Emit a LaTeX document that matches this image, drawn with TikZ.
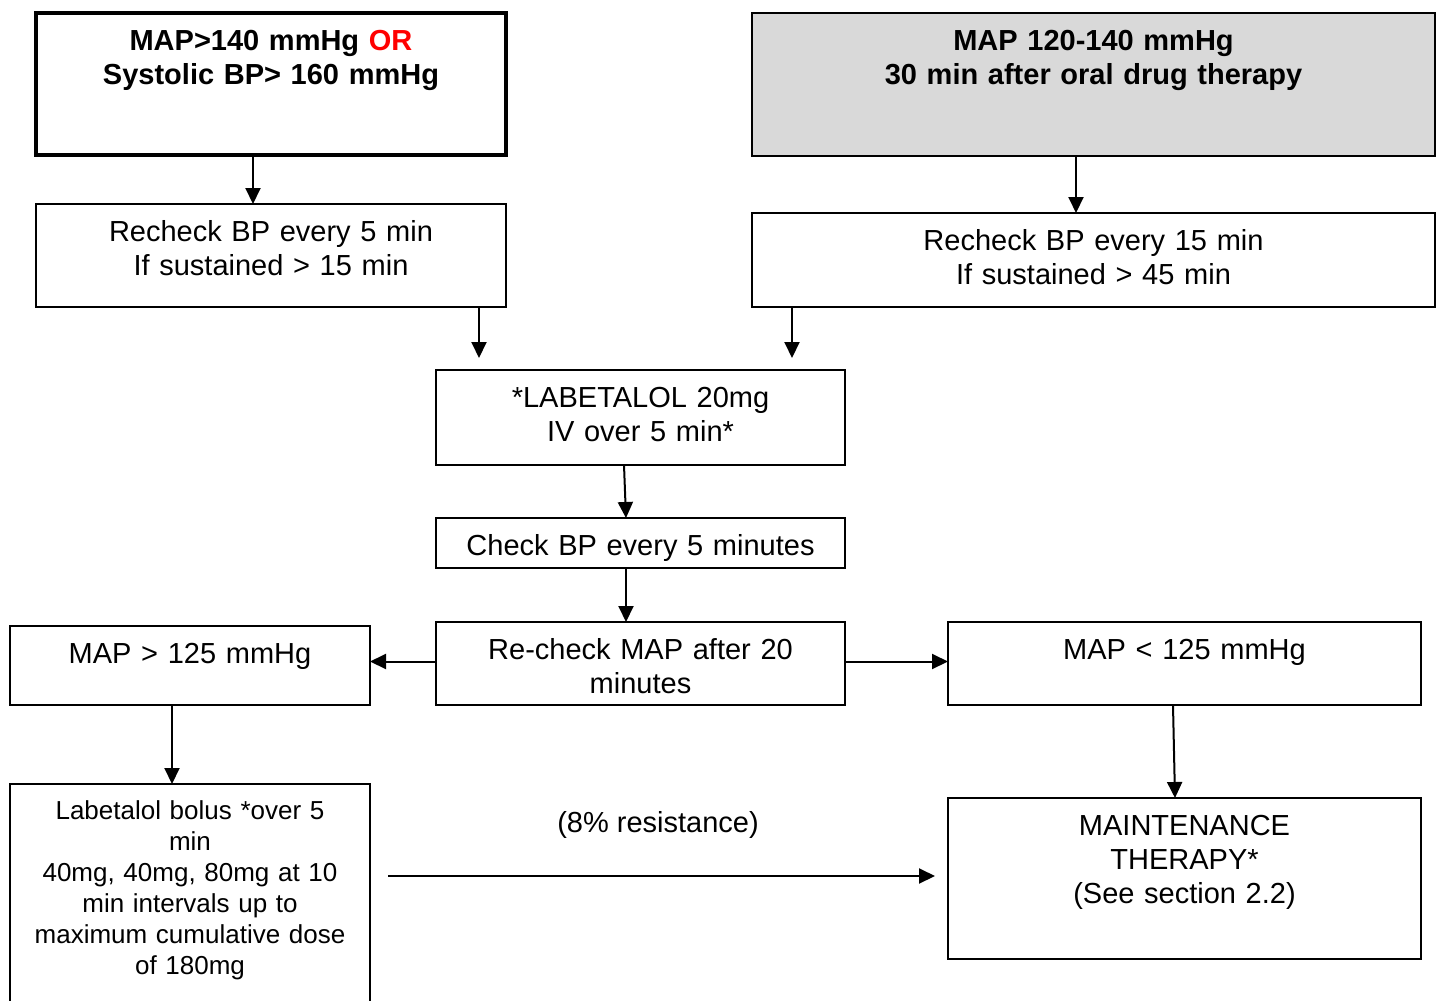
\documentclass[tikz,border=0pt]{standalone}
\usepackage{fontspec}
\setmainfont{Liberation Sans}
\usetikzlibrary{arrows.meta}

\begin{document}
\begin{tikzpicture}[x=1pt, y=-1pt, >={Triangle[length=16pt, width=15pt]},
    box/.style={draw, line width=1.5pt, anchor=north west, inner xsep=8pt, inner ysep=0pt,
      outer sep=0pt, align=center, text height=37.5pt, font=\fontsize{29}{34}\selectfont},
    arr/.style={->, line width=2pt}]
  \clip (0,0) rectangle (1441,1001);
  % first row
  \node[box, line width=4pt, text width=454pt, text depth=104.5pt,
    font=\fontsize{29}{34}\selectfont\bfseries] (crit) at (36,13)
    {MAP>140 mmHg \textcolor{red}{OR}\\Systolic BP> 160 mmHg};
  \node[box, fill=black!15, text width=667pt, text depth=105.5pt,
    font=\fontsize{29}{34}\selectfont\bfseries] (oral) at (752,13)
    {MAP 120-140 mmHg\\30 min after oral drug therapy};
  \node[box, text width=454pt, text depth=65.5pt] (rc5) at (36,204)
    {Recheck BP every 5 min\\If sustained > 15 min};
  \node[box, text width=667pt, text depth=56.5pt] (rc15) at (752,213)
    {Recheck BP every 15 min\\If sustained > 45 min};
  % middle column
  \node[box, text width=393pt, text depth=57.5pt] (lab) at (436,370)
    {*LABETALOL 20mg\\IV over 5 min*};
  \node[box, text width=393pt, text depth=12.5pt] (chk) at (436,518)
    {Check BP every 5 minutes};
  \node[box, text width=393pt, text depth=45.5pt] (remap) at (436,622)
    {Re-check MAP after 20\\minutes};
  % outcomes
  \node[box, text width=344pt, text depth=41.5pt] (high) at (10,626)
    {MAP > 125 mmHg};
  \node[box, text width=457pt, text depth=45.5pt] (low) at (948,622)
    {MAP < 125 mmHg};
  \node[box, text width=344pt, text height=35pt, text depth=225pt,
    font=\fontsize{26}{31}\selectfont] (bolus) at (10,784)
    {Labetalol bolus *over 5\\min\\40mg, 40mg, 80mg at 10\\min intervals up to\\maximum cumulative dose\\of 180mg};
  \node[box, text width=457pt, text depth=123.5pt] (maint) at (948,798)
    {MAINTENANCE\\THERAPY*\\(See section 2.2)};
  \node[font=\fontsize{29}{34}\selectfont] (resist) at (658,825) {(8\% resistance)};
  \coordinate (resfrom) at (388,876);
  \coordinate (resto) at (935,876);

  % arrows
  \draw[arr] ([xshift=-18pt]crit.south) -- ([xshift=-18pt]rc5.north);
  \draw[arr] ([xshift=-17.5pt]oral.south) -- ([xshift=-17.5pt]rc15.north);
  \draw[arr] ([xshift=208pt]rc5.south) -- ([xshift=-161.5pt, yshift=12pt]lab.north);
  \draw[arr] ([xshift=-301.5pt]rc15.south) -- ([xshift=151.5pt, yshift=12pt]lab.north);
  \draw[arr] ([xshift=-16.5pt]lab.south) -- ([xshift=-14.5pt]chk.north);
  \draw[arr] ([xshift=-14.5pt]chk.south) -- ([xshift=-14.5pt]remap.north);
  \draw[arr] ([yshift=2pt]remap.west) -- ([yshift=2pt]remap.west -| high.east);
  \draw[arr] ([yshift=2pt]remap.east) -- ([yshift=2pt]remap.east -| low.west);
  \draw[arr] ([xshift=-18pt]high.south) -- ([xshift=-18pt]bolus.north);
  \draw[arr] ([xshift=-11.5pt]low.south) -- ([xshift=-9.5pt]maint.north);
  \draw[arr] (resfrom) -- (resto);
\end{tikzpicture}
\end{document}
